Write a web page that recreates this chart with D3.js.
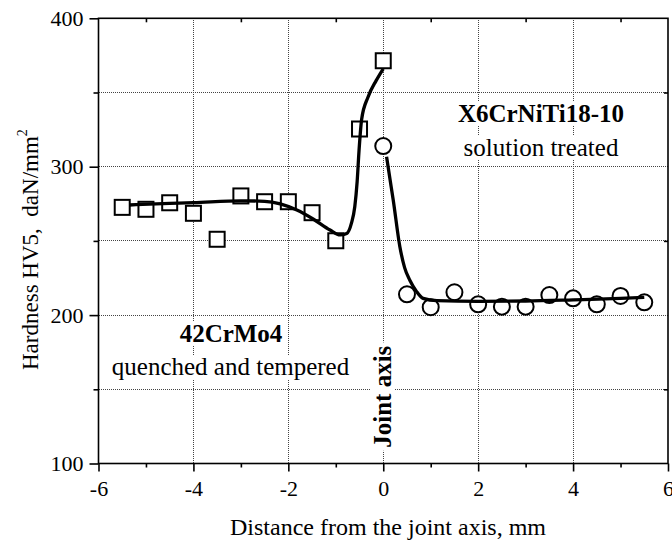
<!DOCTYPE html>
<html>
<head>
<meta charset="utf-8">
<script src="https://cdn.jsdelivr.net/npm/d3@7"></script>
<style>
  body { margin: 0; background: #fff; }
  svg { display: block; }
  svg text { font-family: "Liberation Serif", "Times New Roman", serif; }
</style>
</head>
<body>
<svg></svg>
<script>
// measured points, 42CrMo4 side (squares)
var steelX = [-5.5, -5, -4.5, -4, -3.5, -3, -2.5, -2, -1.5, -1, -0.5, 0]
var steelHV = [272.6, 271.3, 275.7, 268.6, 251.1, 280.3, 276.4, 276.4, 269, 250.1, 325.4, 371.4]

// measured points, X6CrNiTi18-10 side (circles)
var stainX = [0, 0.5, 1, 1.5, 2, 2.5, 3, 3.5, 4, 4.5, 5, 5.5]
var stainHV = [313.9, 214, 205.3, 215.4, 207.3, 205.7, 205.7, 213.5, 211.3, 207.3, 212.9, 208.6]

// fitted curves
var fitLeftX = [-5.35, -4.5, -4, -3, -2.5, -2.17, -1.82, -1.47, -1.12, -0.91, -0.77, -0.67, -0.6, -0.55, -0.51, -0.455, -0.32, -0.15, 0]
var fitLeftHV = [274.2, 275.3, 275.8, 277, 276.7, 275, 270.8, 264.6, 257.3, 254, 255, 262, 273, 290, 311, 332, 347, 358, 366]
var fitRightX = [0.07, 0.14, 0.21, 0.35, 0.45, 0.56, 0.7, 0.84, 1.13, 2, 3, 4, 5, 5.5]
var fitRightHV = [306.7, 292, 277.6, 246.1, 232, 223.5, 216, 211.3, 209.7, 209.3, 209.5, 210.3, 211.3, 212]

var xTicks = [-6, -4, -2, 0, 2, 4, 6]
var xMinor = [-5, -3, -1, 1, 3, 5]
var yTicks = [100, 200, 300, 400]
var yMinor = [150, 250, 350]

var width = 672
var height = 543

var svg = d3.select("svg")
    .attr("width", width)
    .attr("height", height)

var xScale = d3.scaleLinear()
                .domain([-6, 6])
                .range([98.5, 668])

var yScale = d3.scaleLinear()
                .domain([100, 400])
                .range([463.5, 18.3])

// dotted grid
var grid = svg.append("g")
grid.selectAll(".vg")
    .data(xTicks.slice(1, -1))
    .enter()
    .append("line")
        .attr("x1", d => xScale(d)).attr("x2", d => xScale(d))
        .attr("y1", yScale(400)).attr("y2", yScale(100))
grid.selectAll(".hg")
    .data([150, 200, 250, 300, 350])
    .enter()
    .append("line")
        .attr("x1", xScale(-6)).attr("x2", xScale(6))
        .attr("y1", d => yScale(d)).attr("y2", d => yScale(d))
grid.selectAll("line")
    .attr("stroke", "#444")
    .attr("stroke-width", 1)
    .attr("stroke-dasharray", "1,1")
    .attr("shape-rendering", "crispEdges")

// labels inside the plot, each on a white box that hides the grid
function label(txt, x, y, bold, rot){
    var g = svg.append("g")
        .attr("transform", "translate(" + x + "," + y + ")" + (rot ? " rotate(-90)" : ""))
    var t = g.append("text")
        .text(txt)
        .attr("text-anchor", "middle")
        .attr("font-size", 25)
        .attr("font-weight", bold ? "bold" : "normal")
        .attr("fill", "#000")
    var b = t.node().getBBox()
    g.insert("rect", "text")
        .attr("x", b.x - 3).attr("y", b.y + 2)
        .attr("width", b.width + 6).attr("height", b.height - 3)
        .attr("fill", "#fff")
}
label("X6CrNiTi18-10", 541, 121.5, true)
label("solution treated", 541, 156, false)
label("42CrMo4", 231, 342, true)
label("quenched and tempered", 230.5, 375, false)
label("Joint axis", 391, 396.7, true, true)

// frame
svg.append("rect")
    .attr("x", xScale(-6)).attr("y", yScale(400))
    .attr("width", xScale(6) - xScale(-6))
    .attr("height", yScale(100) - yScale(400))
    .attr("fill", "none")
    .attr("stroke", "#000")
    .attr("stroke-width", 1.6)

var xAxis = d3.axisBottom(xScale)
                .tickValues(xTicks)
                .tickFormat(d => String(d))
                .tickSize(8)
                .tickPadding(9)
                .tickSizeOuter(0)
var xAxisMinor = d3.axisBottom(xScale).tickValues(xMinor).tickFormat("").tickSize(4).tickSizeOuter(0)
var yAxis = d3.axisLeft(yScale)
                .tickValues(yTicks)
                .tickSize(9)
                .tickPadding(6)
                .tickSizeOuter(0)
var yAxisMinor = d3.axisLeft(yScale).tickValues(yMinor).tickFormat("").tickSize(5).tickSizeOuter(0)

svg.append("g")
    .attr("transform", "translate(0," + yScale(100) + ")")
    .call(xAxis)
svg.append("g")
    .attr("transform", "translate(0," + yScale(100) + ")")
    .call(xAxisMinor)
svg.append("g")
    .attr("transform", "translate(" + xScale(-6) + ",0)")
    .call(yAxis)
svg.append("g")
    .attr("transform", "translate(" + xScale(-6) + ",0)")
    .call(yAxisMinor)
// small inward ticks on top and right edges
svg.append("g")
    .attr("transform", "translate(0," + yScale(400) + ")")
    .call(d3.axisBottom(xScale).tickValues(xMinor).tickFormat("").tickSize(4).tickSizeOuter(0))
svg.append("g")
    .attr("transform", "translate(" + xScale(6) + ",0)")
    .call(d3.axisRight(yScale).tickValues(yMinor).tickFormat("").tickSize(-4).tickSizeOuter(0))

svg.selectAll(".domain").remove()
svg.selectAll(".tick line").attr("stroke", "#000").attr("stroke-width", 1.6)
svg.selectAll(".tick text")
    .style("font-family", "'Liberation Serif', serif")
    .style("font-size", "22px")
    .attr("fill", "#000")

// axis titles
svg.append("text")
    .text("Distance from the joint axis, mm")
    .attr("x", 388)
    .attr("y", 535)
    .attr("text-anchor", "middle")
    .attr("font-size", 24)

var yTitle = svg.append("text")
    .attr("transform", "translate(38,370) rotate(-90)")
    .attr("font-size", 23)
    .style("white-space", "pre")
yTitle.append("tspan").text("Hardness HV5,  daN/mm")
yTitle.append("tspan").text("2").attr("font-size", 14).attr("dy", -11)

// markers
var steel = steelX.map((d, i) => ({x: d, y: steelHV[i]}))
var stain = stainX.map((d, i) => ({x: d, y: stainHV[i]}))

svg.append("g")
    .selectAll("rect")
    .data(steel)
    .enter()
    .append("rect")
        .attr("x", d => xScale(d.x) - 7.5)
        .attr("y", d => yScale(d.y) - 7.5)
        .attr("width", 15)
        .attr("height", 15)
        .attr("fill", "#fff")
        .attr("stroke", "#000")
        .attr("stroke-width", 2)

svg.append("g")
    .selectAll("circle")
    .data(stain)
    .enter()
    .append("circle")
        .attr("cx", d => xScale(d.x))
        .attr("cy", d => yScale(d.y))
        .attr("r", 8)
        .attr("fill", "#fff")
        .attr("stroke", "#000")
        .attr("stroke-width", 2)

// fitted curves on top
var line = d3.line()
            .x(d => xScale(d[0]))
            .y(d => yScale(d[1]))
            .curve(d3.curveMonotoneX)

svg.append("path")
    .datum(fitLeftX.map((d, i) => [d, fitLeftHV[i]]))
    .attr("d", line)
    .attr("fill", "none")
    .attr("stroke", "#000")
    .attr("stroke-width", 3.3)

svg.append("path")
    .datum(fitRightX.map((d, i) => [d, fitRightHV[i]]))
    .attr("d", line)
    .attr("fill", "none")
    .attr("stroke", "#000")
    .attr("stroke-width", 3.3)
</script>
</body>
</html>
